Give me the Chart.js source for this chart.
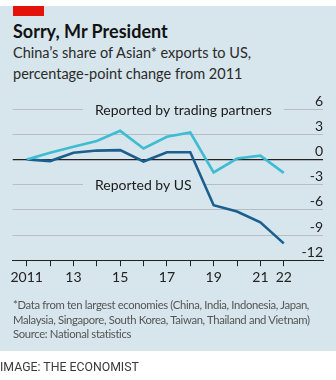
<!DOCTYPE html>
<html><head><meta charset="utf-8">
<script src="https://cdn.jsdelivr.net/npm/chart.js@4/dist/chart.umd.min.js"></script>
<style>
html,body{margin:0;padding:0;background:#fff;width:336px;height:380px;overflow:hidden;font-family:Lato,"Open Sans",sans-serif;}
#panel{position:absolute;left:0;top:6px;width:336px;height:345px;background:#d7e5ec;}
#red{position:absolute;left:13px;top:6px;width:31px;height:10px;background:#e3120b;}
#title{position:absolute;left:13px;top:20px;font:bold 18px Lato,sans-serif;color:#121212;white-space:nowrap;}
#sub{position:absolute;left:13px;top:42px;font:14.5px/21px Lato,sans-serif;color:#2a2a2a;white-space:nowrap;}
#foot{position:absolute;left:13px;top:298px;font:11.3px/14.5px Lato,sans-serif;letter-spacing:-0.35px;color:#555;white-space:nowrap;}
#credit{position:absolute;left:0;top:360px;font:400 12.3px Roboto,sans-serif;color:#3a3a3a;white-space:nowrap;}
#c{position:absolute;left:0;top:0;}
</style></head><body>
<div id="panel"></div>
<div id="red"></div>
<div id="title">Sorry, Mr President</div>
<div id="sub">China’s share of Asian* exports to US,<br>percentage-point change from 2011</div>
<canvas id="c" width="336" height="300"></canvas>
<div id="foot">*Data from ten largest economies (China, India, Indonesia, Japan,<br>Malaysia, Singapore, South Korea, Taiwan, Thailand and Vietnam)<br>Source: National statistics</div>
<div id="credit">IMAGE: THE ECONOMIST</div>
<script>
const years = [2011,2012,2013,2014,2015,2016,2017,2018,2019,2020,2021,2022];
const tradingPartners = [0,0.8,1.5,2.2,3.4,1.3,2.7,3.2,-1.55,0.1,0.45,-1.6];
const reportedByUS = [0,-0.2,0.8,1.05,1.1,-0.25,0.85,0.85,-5.45,-6.2,-7.5,-10.0];
const yTicks = [6,3,0,-3,-6,-9,-12];
const xLabelYears = [2011,2013,2015,2017,2019,2021,2022];
const seriesLabels = ["Reported by trading partners","Reported by US"];
const labelAnchors = [{x:2013.92,y:6},{x:2013.92,y:-3}];

const PANEL = '#d7e5ec';
const toXY = arr => years.map((y,i)=>({x:y,y:arr[i]}));

const labelPlugin = {
  id:'seriesLabels',
  beforeDatasetsDraw(chart){
    const {ctx, scales:{x,y}} = chart;
    ctx.save();
    ctx.font = '14px Lato, sans-serif';
    ctx.textBaseline = 'middle';
    ctx.textAlign = 'left';
    seriesLabels.forEach((t,i)=>{
      const px = x.getPixelForValue(labelAnchors[i].x);
      const py = y.getPixelForValue(labelAnchors[i].y);
      const w = ctx.measureText(t).width;
      ctx.fillStyle = PANEL;
      ctx.fillRect(px-12, py-3, w+24, 6);
      ctx.fillStyle = '#1a1a1a';
      ctx.fillText(t, px, py+1);
    });
    ctx.restore();
  }
};

new Chart(document.getElementById('c'), {
  type:'line',
  data:{datasets:[
    {label:seriesLabels[0], data:toXY(tradingPartners), borderColor:'#3ebcd2', borderWidth:2.6, pointRadius:0, tension:0, borderJoinStyle:'miter'},
    {label:seriesLabels[1], data:toXY(reportedByUS), borderColor:'#1a5f8e', borderWidth:2.6, pointRadius:0, tension:0, borderJoinStyle:'miter'}
  ]},
  options:{
    responsive:false, animation:false,
    layout:{padding:{left:12.7, right:13, top:109, bottom:11}},
    plugins:{legend:{display:false}, tooltip:{enabled:false}},
    scales:{
      x:{type:'linear', min:2010.4, max:2023.68,
        afterBuildTicks(s){ s.ticks = years.map(v=>({value:v})); },
        ticks:{autoSkip:false, maxRotation:0, padding:3, color:'#222', font:{family:'Lato', size:14},
          callback:v=> xLabelYears.includes(v) ? (v===2011 ? '2011' : String(v).slice(2)) : ''},
        grid:{drawOnChartArea:false, tickLength:6, color:'#222', lineWidth:1},
        border:{display:true, color:'#222', width:1}
      },
      y:{position:'right', min:-12, max:6,
        afterBuildTicks(s){ s.ticks = yTicks.map(v=>({value:v})); },
        ticks:{mirror:true, padding:0, labelOffset:-8, color:'#222', font:{family:'Lato', size:14}},
        grid:{drawTicks:false, color:c=> c.tick && c.tick.value===0 ? '#222' : '#b3bec6', lineWidth:c=> c.tick && c.tick.value===0 ? 1.3 : 1},
        border:{display:false}
      }
    }
  },
  plugins:[labelPlugin]
});
</script>
</body></html>
